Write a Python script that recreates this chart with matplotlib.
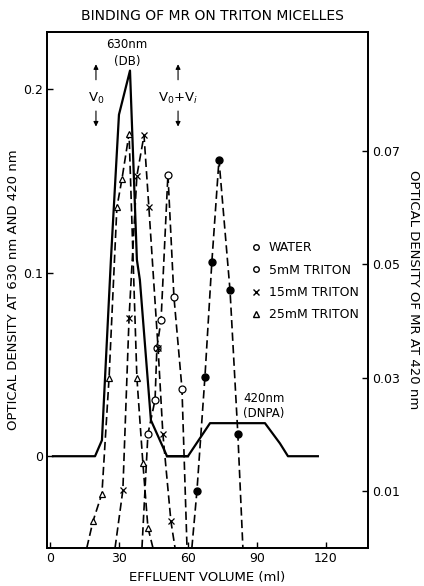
import matplotlib
matplotlib.use("Agg")
import matplotlib.pyplot as plt
from matplotlib.lines import Line2D

plt.rcParams['font.family'] = 'DejaVu Sans'

# solid curves, left axis (optical density at 630 nm and 420 nm)
db_x = [1.3, 19.6, 22.6, 26.5, 30.0, 34.8, 37.8, 39.1, 43.9, 50.9, 60.0]
db_y = [0, 0, 0.0087, 0.107, 0.186, 0.210, 0.107, 0.096, 0.0196, 0, 0]
dnpa_x = [50.9, 60.0, 69.6, 93.5, 100.0, 103.5, 116.5]
dnpa_y = [0, 0, 0.018, 0.018, 0.007, 0, 0]

# dashed curves, right axis (optical density of MR at 420 nm)
# first and last points are where the line leaves the frame (no marker)
water_x = [61.7, 63.9, 67.4, 70.4, 73.5, 78.3, 81.7, 83.9]
water_y = [0, 0.0100, 0.0302, 0.0504, 0.0684, 0.0454, 0.0201, 0]
t5_x = [40.0, 42.6, 45.7, 46.5, 48.3, 51.3, 53.9, 57.4, 59.6]
t5_y = [0, 0.0201, 0.0261, 0.0353, 0.0401, 0.0658, 0.0443, 0.0281, 0]
t15_x = [28.3, 31.7, 34.4, 37.8, 40.9, 43.0, 47.0, 49.1, 52.6, 54.4]
t15_y = [0, 0.0102, 0.0406, 0.0656, 0.0727, 0.0601, 0.0353, 0.0201, 0.0047, 0]
t25_x = [16.0, 18.7, 22.6, 25.7, 29.1, 31.3, 34.4, 37.8, 40.4, 42.6, 44.8]
t25_y = [0, 0.0047, 0.0096, 0.030, 0.060, 0.065, 0.073, 0.030, 0.015, 0.0036, 0]

legend_labels = ["WATER", "5mM TRITON", "15mM TRITON", "25mM TRITON"]
x_ticks = [0, 30, 60, 90, 120]
left_ticks = [0, 0.1, 0.2]
left_ticklabels = ["0", "0.1", "0.2"]
right_ticks = [0.01, 0.03, 0.05, 0.07]
right_ticklabels = ["0.01", "0.03", "0.05", "0.07"]

fig = plt.figure(figsize=(4.24, 5.86), dpi=100)
ax = fig.add_axes([0.1108, 0.0648, 0.7571, 0.8805])
ax2 = ax.twinx()

ax.plot(db_x, db_y, color="black", lw=1.6)
ax.plot(dnpa_x, dnpa_y, color="black", lw=1.6)

dash = dict(color="black", lw=1.2, linestyle=(0, (5, 2.5)))
ms = 5
ax2.plot(water_x, water_y, marker="o", ms=ms, mfc="black", mec="black",
         markevery=slice(1, -1), **dash)
ax2.plot(t5_x, t5_y, marker="o", ms=ms, mfc="white", mec="black", mew=0.9,
         markevery=slice(1, -1), **dash)
ax2.plot(t15_x, t15_y, marker="x", ms=ms, mec="black", mew=0.9,
         markevery=slice(1, -1), **dash)
ax2.plot(t25_x, t25_y, marker="^", ms=ms, mfc="white", mec="black", mew=0.9,
         markevery=slice(1, -1), **dash)

ax.set_xlim(-1.3, 138.3)
ax.set_ylim(-0.05, 0.231)
ax2.set_ylim(0, 0.0909)

ax.set_xticks(x_ticks)
ax.set_yticks(left_ticks)
ax.set_yticklabels(left_ticklabels)
ax2.set_yticks(right_ticks)
ax2.set_yticklabels(right_ticklabels)
ax.tick_params(direction="in", length=4, width=1, labelsize=9, pad=3)
ax2.tick_params(direction="in", length=4, width=1, labelsize=9, pad=3)
for a in (ax, ax2):
    for s in a.spines.values():
        s.set_linewidth(1.3)

ax.set_xlabel("EFFLUENT VOLUME (ml)", fontsize=9.5, labelpad=4)
ax.set_ylabel("OPTICAL DENSITY AT 630 nm AND 420 nm", fontsize=9.5, labelpad=2)
ax2.set_ylabel("OPTICAL DENSITY OF MR AT 420 nm", fontsize=9.5, rotation=270,
               labelpad=14)
fig.suptitle("BINDING OF MR ON TRITON MICELLES", fontsize=10, y=0.985)

# annotations
ax.text(33.5, 0.224, "630nm", ha="center", va="center", fontsize=8.5)
ax.text(33.5, 0.215, "(DB)", ha="center", va="center", fontsize=8.5)
ax.text(84, 0.0316, "420nm", ha="left", va="center", fontsize=8.5)
ax.text(84, 0.0234, "(DNPA)", ha="left", va="center", fontsize=8.5)

for vx, lab in [(20, "V$_0$"), (55.7, "V$_0$+V$_i$")]:
    ax.text(vx, 0.195, lab, ha="center", va="center", fontsize=9.5)
    ax.annotate("", xy=(vx, 0.2150), xytext=(vx, 0.2035),
                arrowprops=dict(arrowstyle="-|>", color="black", lw=0.8,
                                mutation_scale=7))
    ax.annotate("", xy=(vx, 0.1780), xytext=(vx, 0.1895),
                arrowprops=dict(arrowstyle="-|>", color="black", lw=0.8,
                                mutation_scale=7))

handles = [
    Line2D([], [], ls="none", marker="o", ms=4, mfc="white", mec="black"),
    Line2D([], [], ls="none", marker="o", ms=4, mfc="white", mec="black"),
    Line2D([], [], ls="none", marker="x", ms=4, mec="black"),
    Line2D([], [], ls="none", marker="^", ms=4, mfc="white", mec="black"),
]
ax2.legend(handles, legend_labels, loc="upper left",
           bbox_to_anchor=(0.578, 0.40, 0.3, 0.199), bbox_transform=fig.transFigure,
           frameon=False, fontsize=9, handlelength=0.8, handletextpad=0.6,
           labelspacing=0.75, borderpad=0)

fig.savefig("out.png", dpi=100)
